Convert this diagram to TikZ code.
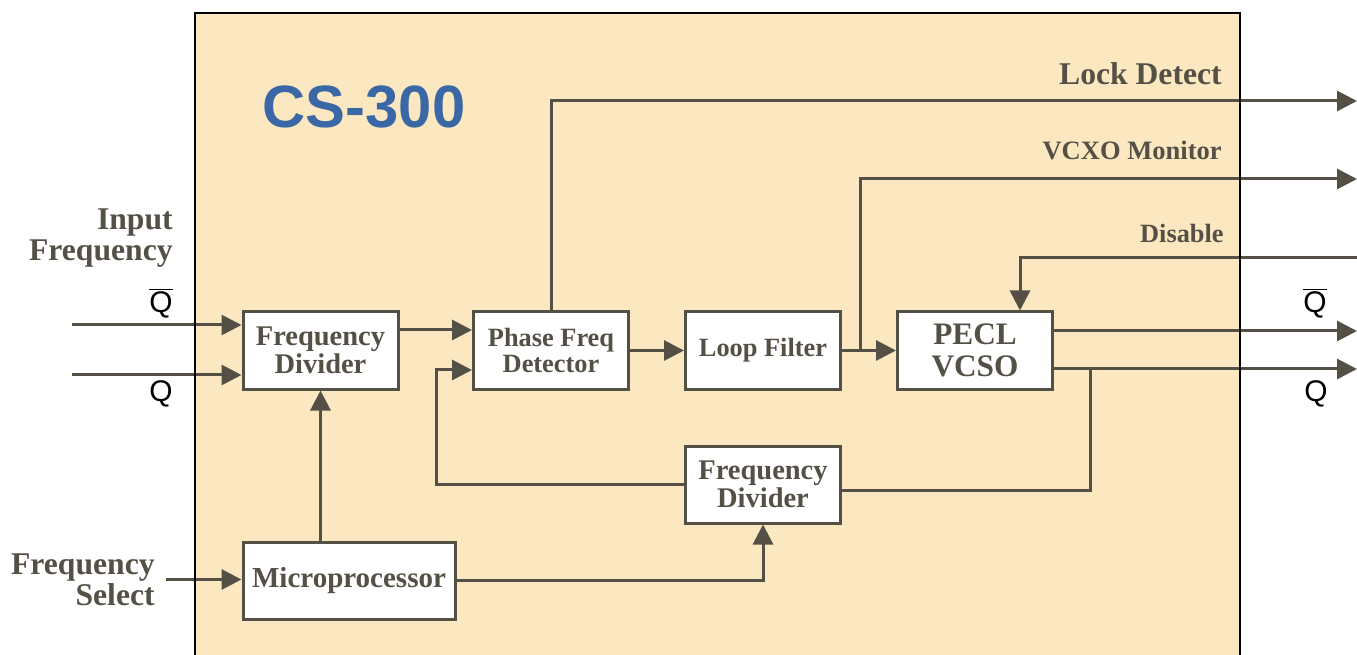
\documentclass[tikz,border=0pt]{standalone}
\usepackage{fontspec}
\setmainfont{Liberation Serif}
\setsansfont{Liberation Sans}
\usetikzlibrary{arrows.meta}
\definecolor{ink}{HTML}{545046}
\definecolor{bg}{HTML}{FCE8C0}
\definecolor{titleblue}{HTML}{3A67A6}
\tikzset{
  blk/.style={draw=ink, fill=white, line width=0.6mm, minimum width=31mm, minimum height=15.4mm, inner sep=0pt, align=center, text=ink, font=\bfseries\fontsize{16.2}{16}\selectfont},
  arr/.style={draw=ink, line width=0.6mm, -{Triangle[length=4mm,width=4mm]}},
  ln/.style={draw=ink, line width=0.6mm},
  lbl/.style={text=ink, inner sep=0pt, align=right, anchor=east},
  qlbl/.style={text=black, inner sep=0pt, font=\sffamily\fontsize{17}{17}\selectfont}
}
\begin{document}
\begin{tikzpicture}[x=0.2mm,y=-0.2mm]
\useasboundingbox (0,0) rectangle (1357,655);
\fill[bg] (195,13) rectangle (1240,655);

% title
\node[text=titleblue, inner sep=0pt, font=\sffamily\bfseries\fontsize{34}{34}\selectfont] (title) at (364,107) {CS-300};

% blocks
\node[blk] (FD1) at (320.5,350.5) {Frequency\\Divider};
\node[blk, font=\bfseries\fontsize{15}{14.8}\selectfont] (PFD) at (551,350.5) {Phase Freq\\Detector};
\node[blk, font=\bfseries\fontsize{15}{15}\selectfont] (LF) at (763,350.5) {Loop Filter};
\node[blk, font=\bfseries\fontsize{17.8}{18.2}\selectfont] (PECL) at (975,350.5) {PECL\\VCSO};
\node[blk] (FD2) at (763,484.5) {Frequency\\Divider};
\node[blk, minimum width=42.4mm, font=\bfseries\fontsize{16.5}{16}\selectfont] (MP) at (349,580.5) {Microprocessor};

% outside labels
\node[lbl, font=\bfseries\fontsize{18}{17.7}\selectfont] (inf) at (173,238) {Input\\Frequency};
\node[lbl, font=\bfseries\fontsize{18}{17.7}\selectfont] (fsel) at (155,580) {Frequency\\Select};
\node[lbl, font=\bfseries\fontsize{18}{18}\selectfont] (ld) at (1222,74) {Lock Detect};
\node[lbl, font=\bfseries\fontsize{15.1}{15}\selectfont] (vm) at (1222,150) {VCXO Monitor};
\node[lbl, font=\bfseries\fontsize{15}{15}\selectfont] (dis) at (1224,233) {Disable};
\node[qlbl] (qbin) at (161,303) {$\overline{\hbox{\sffamily\fontsize{17}{17}\selectfont Q}}$};
\node[qlbl] (qin) at (161,394) {Q};
\node[qlbl] (qbout) at (1315,303) {$\overline{\hbox{\sffamily\fontsize{17}{17}\selectfont Q}}$};
\node[qlbl] (qout) at (1316,394) {Q};

% coordinates
\coordinate (inQb) at (72,325);
\coordinate (inQ) at (72,375);
\coordinate (inFS) at (166,579.5);
\coordinate (y330) at (0,330);
\coordinate (y370) at (0,370);
\coordinate (y331) at (0,331);
\coordinate (y369) at (0,369);
\coordinate (y490) at (0,490);
\coordinate (fbx) at (436,484.5);
\coordinate (br1) at (860,350.5);
\coordinate (br2) at (1090,369);
\coordinate (outLD) at (1357,101);
\coordinate (outVM) at (1357,179);
\coordinate (inDis) at (1357,258);
\coordinate (dc) at (1020,258);
\coordinate (outQb) at (1357,331);
\coordinate (outQ) at (1357,369);

% connectors
\draw[arr] (inQb) -- (FD1.west |- inQb);
\draw[arr] (inQ) -- (FD1.west |- inQ);
\draw[arr] (inFS) -- (MP.west |- inFS);
\draw[arr] (FD1.south |- MP.north) -- (FD1.south);
\draw[arr] (FD1.east |- y330) -- (PFD.west |- y330);
\draw[arr] (FD2.west) -- (fbx) -- (fbx |- y370) -- (PFD.west |- y370);
\draw[arr] (PFD.east) -- (LF.west);
\draw[arr] (LF.east) -- (PECL.west);
\draw[arr] (br1) -- (br1 |- outVM) -- (outVM);
\draw[arr] (PFD.north) -- (PFD.north |- outLD) -- (outLD);
\draw[arr] (inDis) -- (dc) -- (dc |- PECL.north);
\draw[arr] (PECL.east |- y331) -- (outQb);
\draw[arr] (PECL.east |- y369) -- (outQ);
\draw[ln] (br2) -- (br2 |- y490) -- (FD2.east |- y490);
\draw[arr] (MP.east) -- (FD2.south |- MP.east) -- (FD2.south);

% outer border
\draw[black, line width=0.5mm] (195,655) -- (195,13) -- (1240,13) -- (1240,655);
\end{tikzpicture}
\end{document}
